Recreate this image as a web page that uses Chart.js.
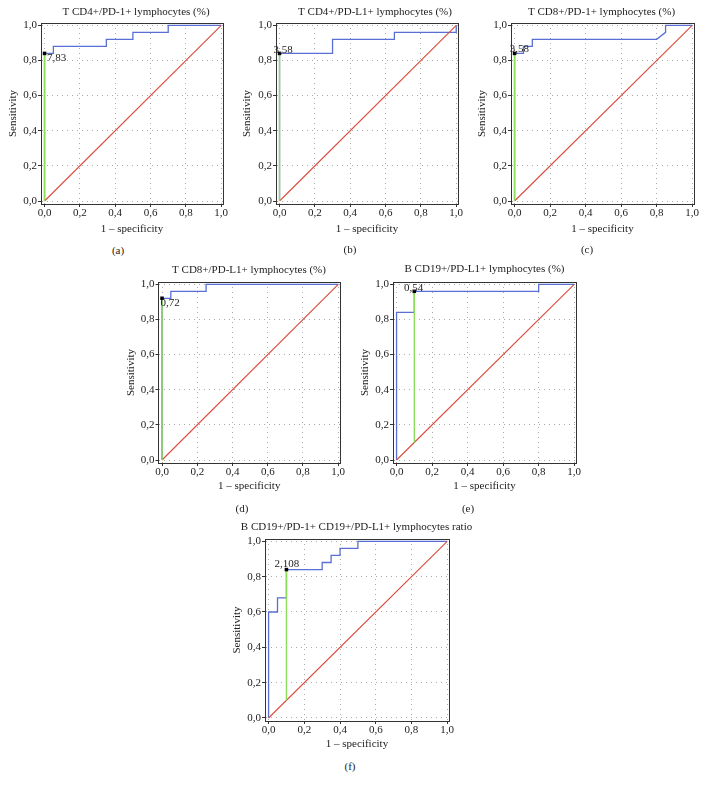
<!DOCTYPE html>
<html>
<head>
<meta charset="utf-8">
<script src="https://cdn.jsdelivr.net/npm/chart.js@4"></script>
<style>
  html, body { margin: 0; padding: 0; background: #fff; }
  #wrap { position: relative; width: 704px; height: 787px; overflow: hidden; background: #fff; }
  #wrap canvas { position: absolute; }
  .cap { position: absolute; width: 40px; text-align: center; font: 11px "Liberation Serif", "DejaVu Serif", serif; line-height: 13px; color: #222; }
</style>
</head>
<body>
<div id="wrap"></div>
<script>
// ---------- DATA ----------
const titles = [
  "T CD4+/PD-1+ lymphocytes (%)",
  "T CD4+/PD-L1+ lymphocytes (%)",
  "T CD8+/PD-1+ lymphocytes (%)",
  "T CD8+/PD-L1+ lymphocytes (%)",
  "B CD19+/PD-L1+ lymphocytes (%)",
  "B CD19+/PD-1+ CD19+/PD-L1+ lymphocytes ratio"
];
const captions = ["(a)", "(b)", "(c)", "(d)", "(e)", "(f)"];
const xAxisTitle = "1 – specificity";
const yAxisTitle = "Sensitivity";
const tickValues = [0, 0.2, 0.4, 0.6, 0.8, 1.0];
const tickLabels = ["0,0", "0,2", "0,4", "0,6", "0,8", "1,0"];

// ROC curves (1 - specificity, sensitivity) vertices
const rocA_fpr = [0, 0,    0.05, 0.05, 0.35, 0.35, 0.5,  0.5,  0.7,  0.7, 1.0];
const rocA_tpr = [0, 0.84, 0.84, 0.88, 0.88, 0.92, 0.92, 0.96, 0.96, 1.0, 1.0];
const rocB_fpr = [0, 0,    0.3,  0.3,  0.65, 0.65, 1.0,  1.0];
const rocB_tpr = [0, 0.84, 0.84, 0.92, 0.92, 0.96, 0.96, 1.0];
const rocC_fpr = [0, 0,    0.05, 0.05, 0.1,  0.1,  0.8,  0.85, 0.85, 1.0];
const rocC_tpr = [0, 0.84, 0.84, 0.88, 0.88, 0.92, 0.92, 0.96, 1.0,  1.0];
const rocD_fpr = [0, 0,    0.05, 0.05, 0.25, 0.25, 1.0];
const rocD_tpr = [0, 0.92, 0.92, 0.96, 0.96, 1.0,  1.0];
const rocE_fpr = [0, 0,    0.1,  0.1,  0.8,  0.8,  1.0];
const rocE_tpr = [0, 0.84, 0.84, 0.96, 0.96, 1.0,  1.0];
const rocF_fpr = [0, 0,   0.05, 0.05, 0.1,  0.1,  0.3,  0.3,  0.35, 0.35, 0.4,  0.4,  0.5,  0.5, 1.0];
const rocF_tpr = [0, 0.6, 0.6,  0.68, 0.68, 0.84, 0.84, 0.88, 0.88, 0.92, 0.92, 0.96, 0.96, 1.0, 1.0];

// optimal cut-off points
const cutoffFpr = [0, 0, 0, 0, 0.1, 0.1];
const cutoffTpr = [0.84, 0.84, 0.84, 0.92, 0.96, 0.84];
const cutoffLabels = ["7,83", "3,58", "3,58", "0,72", "0,54", "2,108"];

// reference diagonal
const diagX = [0, 1];
const diagY = [0, 1];

const rocFpr = [rocA_fpr, rocB_fpr, rocC_fpr, rocD_fpr, rocE_fpr, rocF_fpr];
const rocTpr = [rocA_tpr, rocB_tpr, rocC_tpr, rocD_tpr, rocE_tpr, rocF_tpr];

// ---------- LAYOUT / STYLE ----------
const panels = [
  {L:0,   T:0,   W:272, H:240, fL:41,  fR:223, fT:23,  fB:204, titleCy:12.5, yTitleCx:13,    xTitleCy:229, capX:118, capY:250, dx:2.5,  dy:4.7,  align:'left'},
  {L:240, T:0,   W:270, H:240, fL:276, fR:458, fT:23,  fB:204, titleCy:12.5, yTitleCx:247.3, xTitleCy:229, capX:350, capY:249, dx:-6,   dy:-3.7, align:'left'},
  {L:476, T:0,   W:251, H:240, fL:511, fR:694, fT:23,  fB:204, titleCy:12.5, yTitleCx:481.7, xTitleCy:229, capX:587, capY:249.5, dx:-4.7, dy:-4.7, align:'left'},
  {L:120, T:255, W:258, H:245, fL:158.5, fR:340, fT:282, fB:463, titleCy:270, yTitleCx:130.7, xTitleCy:486, capX:242, capY:508, dx:-1.6, dy:5.2,  align:'left'},
  {L:355, T:255, W:259, H:245, fL:393, fR:576, fT:282, fB:463, titleCy:269.5, yTitleCx:365,  xTitleCy:486, capX:468, capY:508, dx:-10.4, dy:-3.3, align:'left'},
  {L:225, T:515, W:263, H:245, fL:265, fR:449, fT:539, fB:721, titleCy:526.7, yTitleCx:236.7, xTitleCy:744, capX:350, capY:766.7, dx:-12, dy:-5.2, align:'left'}
];

const FONT = '"Liberation Serif", "DejaVu Serif", serif';
const FS = 11;
const LH = FS * 1.2;
const TEXT = '#222';
const FRAME = '#333';
const GRID = '#aaa';
const BLUE = '#5a6fd4';
const RED = '#dc4a3c';
const GREEN = '#8fdc5a';

const cutLabelPlugin = {
  id: 'cutLabel',
  afterDatasetsDraw(chart, args, opts) {
    const meta = chart.getDatasetMeta(0);
    const pt = meta.data[0];
    if (!pt) return;
    const ctx = chart.ctx;
    ctx.save();
    ctx.font = FS + 'px ' + FONT;
    ctx.fillStyle = TEXT;
    ctx.textAlign = opts.align;
    ctx.textBaseline = 'middle';
    ctx.fillText(opts.text, pt.x + opts.dx, pt.y + opts.dy);
    ctx.restore();
  }
};

const wrap = document.getElementById('wrap');

panels.forEach((p, i) => {
  const cv = document.createElement('canvas');
  cv.width = p.W; cv.height = p.H;
  cv.style.left = p.L + 'px'; cv.style.top = p.T + 'px';
  cv.style.width = p.W + 'px'; cv.style.height = p.H + 'px';
  wrap.appendChild(cv);

  const cap = document.createElement('div');
  cap.className = 'cap';
  cap.textContent = captions[i];
  cap.style.left = (p.capX - 20) + 'px';
  cap.style.top = (p.capY - 6.5) + 'px';
  wrap.appendChild(cap);

  const leftW = p.fL - p.L;
  const rightW = p.L + p.W - p.fR;
  const bottomH = p.T + p.H - p.fB;
  const titlePadTop = p.titleCy - p.T - LH / 2;
  const topH = p.fT - p.titleCy - LH / 2;
  const yTitlePad = p.yTitleCx - p.L - LH / 2;
  const xTitlePad = p.T + p.H - p.xTitleCy - LH / 2;

  const rocPts = rocFpr[i].map((x, k) => ({x: x, y: rocTpr[i][k]}));
  const diagPts = diagX.map((x, k) => ({x: x, y: diagY[k]}));
  const greenPts = [{x: cutoffFpr[i], y: cutoffFpr[i]}, {x: cutoffFpr[i], y: cutoffTpr[i]}];
  const cutPt = [{x: cutoffFpr[i], y: cutoffTpr[i]}];

  new Chart(cv, {
    type: 'scatter',
    data: {
      datasets: [
        {data: cutPt, showLine: false, pointStyle: 'rect', pointRadius: 2.5, pointBackgroundColor: '#000', pointBorderColor: '#000', pointBorderWidth: 0},
        {data: greenPts, showLine: true, borderColor: GREEN, borderWidth: 1.4, pointRadius: 0},
        {data: diagPts, showLine: true, borderColor: RED, borderWidth: 1.1, pointRadius: 0},
        {data: rocPts, showLine: true, borderColor: BLUE, borderWidth: 1.3, pointRadius: 0, tension: 0}
      ]
    },
    options: {
      responsive: false,
      maintainAspectRatio: false,
      animation: false,
      devicePixelRatio: 1,
      events: [],
      layout: {padding: 0},
      plugins: {
        legend: {display: false},
        tooltip: {enabled: false},
        title: {
          display: true, text: titles[i], color: TEXT,
          font: {family: FONT, size: FS, weight: 'normal', lineHeight: 1.2},
          padding: {top: titlePadTop, bottom: 0}
        },
        cutLabel: {text: cutoffLabels[i], dx: p.dx, dy: p.dy, align: p.align}
      },
      scales: {
        x: {
          type: 'linear', position: 'bottom', min: -0.02, max: 1.01,
          afterBuildTicks: s => { s.ticks = tickValues.map(v => ({value: v})); },
          afterFit: s => { s.height = bottomH; },
          ticks: {
            color: TEXT, padding: 0, maxRotation: 0, autoSkip: false,
            font: {family: FONT, size: FS},
            callback: (v, k) => tickLabels[k]
          },
          grid: {color: GRID, lineWidth: 1, tickLength: 3, tickColor: FRAME, drawTicks: true},
          border: {display: true, color: FRAME, width: 1, dash: [1, 4]},
          title: {display: true, text: xAxisTitle, color: TEXT, font: {family: FONT, size: FS, lineHeight: 1.2}, padding: {top: 0, bottom: xTitlePad}}
        },
        y: {
          type: 'linear', position: 'left', min: -0.017, max: 1.013,
          afterBuildTicks: s => { s.ticks = tickValues.map(v => ({value: v})); },
          afterFit: s => { s.width = leftW; },
          ticks: {
            color: TEXT, padding: 1, autoSkip: false,
            font: {family: FONT, size: FS},
            callback: (v, k) => tickLabels[k]
          },
          grid: {color: GRID, lineWidth: 1, tickLength: 3, tickColor: FRAME, drawTicks: true},
          border: {display: true, color: FRAME, width: 1, dash: [1, 4]},
          title: {display: true, text: yAxisTitle, color: TEXT, font: {family: FONT, size: FS, lineHeight: 1.2}, padding: {top: yTitlePad, bottom: 0}}
        },
        xTop: {
          type: 'linear', position: 'top', min: 0, max: 1,
          afterFit: s => { s.height = topH; },
          ticks: {display: false},
          grid: {display: false, drawTicks: false},
          border: {display: true, color: FRAME, width: 1}
        },
        yRight: {
          type: 'linear', position: 'right', min: 0, max: 1,
          afterFit: s => { s.width = rightW; },
          ticks: {display: false},
          grid: {display: false, drawTicks: false},
          border: {display: true, color: FRAME, width: 1}
        }
      }
    },
    plugins: [cutLabelPlugin]
  });
});
</script>
</body>
</html>
